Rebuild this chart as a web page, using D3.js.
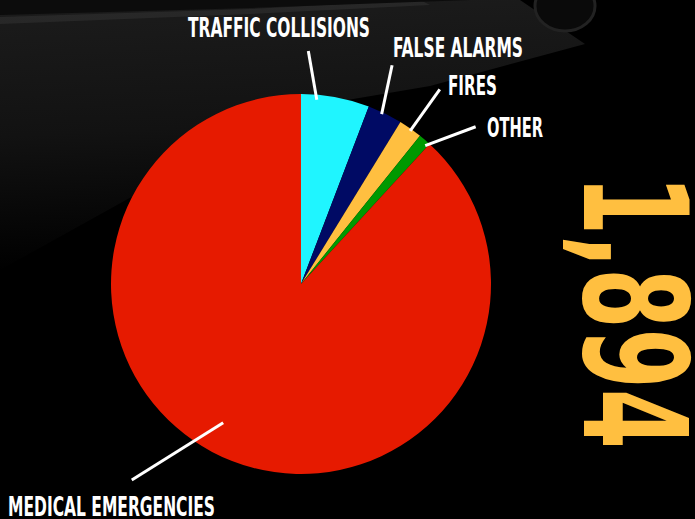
<!DOCTYPE html>
<html>
<head>
<meta charset="utf-8">
<script src="https://cdn.jsdelivr.net/npm/d3@7"></script>
<style>
  html, body { margin: 0; padding: 0; background: #000; }
  svg { display: block; }
</style>
</head>
<body>
<svg id="chart" width="695" height="519"></svg>
<script>
// ---- data ----
const categories = ["TRAFFIC COLLISIONS", "FALSE ALARMS", "FIRES", "OTHER", "MEDICAL EMERGENCIES"];
const values = [110, 56, 38, 20, 1670];
const totalLabel = "1,894";
const colors = ["#1ff5ff", "#000a64", "#ffbf40", "#009900", "#e61a00"];

// ---- layout (label placement) ----
const labelPos = [
  { x: 188, y: 37, w: 182 },
  { x: 393, y: 57, w: 130 },
  { x: 448, y: 95, w: 49 },
  { x: 487, y: 137, w: 56 },
  { x: 8, y: 516, w: 207 }
];
// leader lines as polar [angleDeg, radius] pairs around pie centre
const leaders = [
  [[4.9, 185], [1.8, 233]],
  [[25.4, 188], [22.6, 237]],
  [[35.5, 188], [35.5, 239]],
  [[41.9, 186], [48.0, 235]],
  [[209.3, 159], [220.8, 259]]
];

const svg = d3.select("#chart");
const W = 695, H = 519;
const cx = 301, cy = 284, R = 190;

// ---- background ----
const defs = svg.append("defs");
const g1 = defs.append("linearGradient").attr("id", "bgGrad")
  .attr("x1", 0).attr("y1", 0).attr("x2", 0.1).attr("y2", 1);
g1.append("stop").attr("offset", "0%").attr("stop-color", "#1c1c1c");
g1.append("stop").attr("offset", "50%").attr("stop-color", "#121212");
g1.append("stop").attr("offset", "100%").attr("stop-color", "#000");

svg.append("rect").attr("width", W).attr("height", H).attr("fill", "#000");
svg.append("path")
  .attr("d", "M0,0 L520,0 L585,44 L430,86 L300,108 L180,170 L0,270 Z")
  .attr("fill", "url(#bgGrad)");
svg.append("path")
  .attr("d", "M0,17 L250,9 L420,0 L430,5 L250,14 L0,24 Z")
  .attr("fill", "#2e2e2e").attr("opacity", 0.7);
svg.append("path")
  .attr("d", "M0,0 L470,0 L250,8 L0,15 Z")
  .attr("fill", "#0c0c0c");
// wheel hint
svg.append("ellipse").attr("cx", 565).attr("cy", 6).attr("rx", 30).attr("ry", 25)
  .attr("fill", "#0a0a0a").attr("stroke", "#222").attr("stroke-width", 3);

// ---- pie ----
const pie = d3.pie().sort(null).value(d => d)
  .startAngle(0).endAngle(2 * Math.PI);
const arc = d3.arc().innerRadius(0).outerRadius(R);
const g = svg.append("g").attr("transform", `translate(${cx},${cy})`);
g.selectAll("path.slice")
  .data(pie(values))
  .join("path")
  .attr("class", "slice")
  .attr("d", arc)
  .attr("fill", (d, i) => colors[i]);

// leader lines
g.selectAll("line.leader")
  .data(leaders)
  .join("line")
  .attr("class", "leader")
  .each(function (d) {
    const p1 = d3.pointRadial(d[0][0] * Math.PI / 180, d[0][1]);
    const p2 = d3.pointRadial(d[1][0] * Math.PI / 180, d[1][1]);
    d3.select(this).attr("x1", p1[0]).attr("y1", p1[1]).attr("x2", p2[0]).attr("y2", p2[1]);
  })
  .attr("stroke", "#fff").attr("stroke-width", 3);

// labels
svg.selectAll("text.lbl")
  .data(categories)
  .join("text")
  .attr("class", "lbl")
  .attr("x", (d, i) => labelPos[i].x)
  .attr("y", (d, i) => labelPos[i].y)
  .attr("textLength", (d, i) => labelPos[i].w)
  .attr("lengthAdjust", "spacingAndGlyphs")
  .attr("font-family", "'DejaVu Sans Condensed', 'DejaVu Sans', sans-serif")
  .attr("font-weight", "bold")
  .attr("font-size", 26)
  .attr("fill", "#fff")
  .text(d => d);

// big rotated total
svg.append("text")
  .attr("transform", "translate(584,175) rotate(90)")
  .attr("x", 0).attr("y", 0)
  .attr("textLength", 274)
  .attr("lengthAdjust", "spacingAndGlyphs")
  .attr("font-family", "'DejaVu Sans Condensed', 'DejaVu Sans', sans-serif")
  .attr("font-weight", "bold")
  .attr("font-size", 145)
  .attr("fill", "#ffbf40")
  .text(totalLabel);
</script>
</body>
</html>
